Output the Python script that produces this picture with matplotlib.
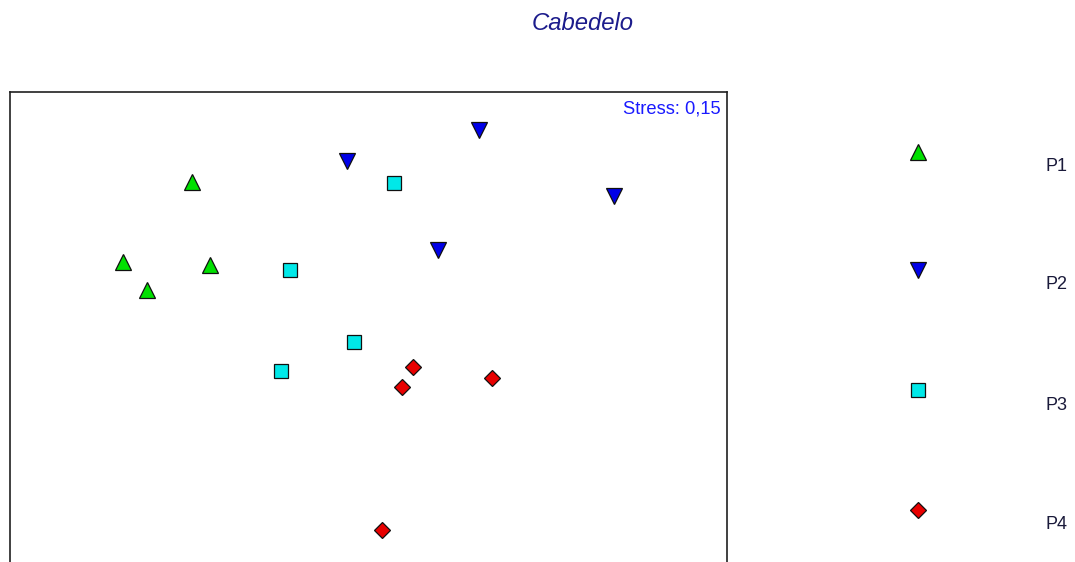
import matplotlib
matplotlib.use("Agg")
import matplotlib.pyplot as plt
from matplotlib.lines import Line2D

plt.rcParams['font.family'] = ['Liberation Sans', 'DejaVu Sans']

# nMDS ordination coordinates per group
groups = ["P1", "P2", "P3", "P4"]
p1_x = [-1.76, -2.45, -1.58, -2.21]
p1_y = [1.18, 0.38, 0.35, 0.10]
p2_x = [1.11, -0.21, 2.46, 0.70]
p2_y = [1.70, 1.39, 1.04, 0.50]
p3_x = [0.26, -0.78, -0.14, -0.87]
p3_y = [1.17, 0.30, -0.42, -0.71]
p4_x = [0.45, 0.34, 1.24, 0.14]
p4_y = [-0.67, -0.87, -0.78, -2.30]
stress = "0,15"

styles = {
    "P1": dict(marker="^", color="#00e000", ms=11.5),
    "P2": dict(marker="v", color="#0000e8", ms=11.5),
    "P3": dict(marker="s", color="#00e8e8", ms=10.5),
    "P4": dict(marker="D", color="#e80000", ms=8.2),
}
series = {"P1": (p1_x, p1_y), "P2": (p2_x, p2_y),
          "P3": (p3_x, p3_y), "P4": (p4_x, p4_y)}

fig = plt.figure(figsize=(10.75, 5.62), dpi=100)
ax = fig.add_axes([0.0093, -0.0676, 0.667, 0.904])

for g in groups:
    xs, ys = series[g]
    st = styles[g]
    ax.plot(xs, ys, linestyle="none", marker=st["marker"], ms=st["ms"],
            markerfacecolor=st["color"], markeredgecolor="#101010", markeredgewidth=0.9)

ax.set_xlim(-3.58, 3.59)
ax.set_ylim(-3.0, 2.08)
ax.set_xticks([])
ax.set_yticks([])
for s in ax.spines.values():
    s.set_linewidth(1.2)
    s.set_color("#202020")

ax.text(0.9915, 0.966, "Stress: " + stress, transform=ax.transAxes,
        ha="right", va="center", color="#1a1aff", fontsize=13.2)

fig.text(0.5423, 0.958, "Cabedelo", ha="center", va="center",
         color="#1c1c8c", fontsize=17.2, style="italic")

# legend drawn in figure coordinates
leg_y = [0.730, 0.520, 0.306, 0.093]
for g, y in zip(groups, leg_y):
    st = styles[g]
    fig.add_artist(Line2D([0.854], [y], transform=fig.transFigure,
                          linestyle="none", marker=st["marker"], ms=st["ms"],
                          markerfacecolor=st["color"], markeredgecolor="#101010",
                          markeredgewidth=0.9))
    fig.text(0.9825, y - 0.027, g, ha="center", va="center",
             color="#1a1a3a", fontsize=13)

fig.savefig("out.png", dpi=100)
